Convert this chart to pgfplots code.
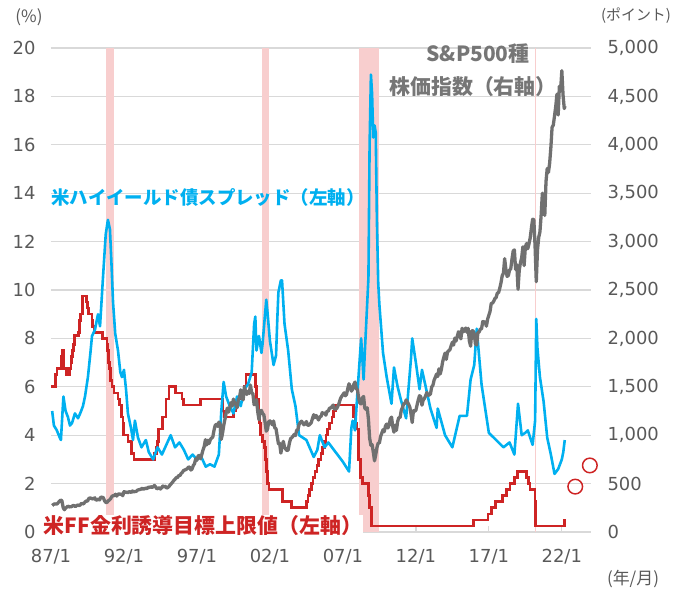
\documentclass[border=0pt]{standalone}
\usepackage{fontspec}
\setmainfont{DejaVu Sans}
\newfontfamily\cjk{Noto Sans CJK JP}
\usepackage{pgfplots}
\pgfplotsset{compat=1.18}
\definecolor{hy}{RGB}{0,176,240}
\definecolor{ff}{RGB}{206,36,36}
\definecolor{sp}{RGB}{112,112,112}
\definecolor{sptext}{RGB}{118,118,118}
\definecolor{rec}{RGB}{248,206,206}
\definecolor{gridc}{RGB}{217,217,217}
\definecolor{lbl}{RGB}{89,89,89}
\begin{document}
\begin{tikzpicture}[x=1bp,y=1bp]
\path[use as bounding box] (-51,-59) rectangle (632,532);
\begin{axis}[
  at={(0,0)}, anchor=south west, scale only axis,
  width=540bp, height=484bp,
  xmin=1987, xmax=2024, ymin=0, ymax=20, clip=false,
  axis line style={draw=none},
  ymajorgrids, grid style={draw=gridc, line width=1.3bp},
  ytick={0,2,...,20},
  xtick={1987,1992,...,2022},
  xticklabels={87/1,92/1,97/1,02/1,07/1,12/1,17/1,22/1},
  xtick pos=bottom, ytick pos=left, tick align=inside, major tick length=6bp,
  xtick style={draw=gridc, line width=1.3bp}, ytick style={draw=none},
  tick label style={font=\fontsize{18}{20}\selectfont, text=lbl},
  xticklabel style={yshift=-14bp}, yticklabel style={xshift=-12bp},
  /pgf/number format/assume math mode=true,
]
% recession shading
\addplot[fill=rec, draw=none, forget plot] coordinates {(1990.75,0) (1990.75,20) (1991.3,20) (1991.3,0)} -- cycle;
\addplot[fill=rec, draw=none, forget plot] coordinates {(2001.45,0) (2001.45,20) (2001.93,20) (2001.93,0)} -- cycle;
\addplot[fill=rec, draw=none, forget plot] coordinates {(2008.1,0) (2008.1,20) (2009.47,20) (2009.47,0)} -- cycle;
\addplot[fill=rec, draw=none, forget plot] coordinates {(2020.17,0) (2020.17,20) (2020.24,20) (2020.24,0)} -- cycle;
% FF target upper limit
\addplot[ff, line width=2.6bp, const plot] coordinates {
(1987.0,6.0) (1987.3,6.5) (1987.4,6.75) (1987.7,7.25) (1987.8,7.5) (1987.85,6.75)
(1988.08,6.5) (1988.25,6.75) (1988.36,7.0) (1988.4,7.25) (1988.48,7.5) (1988.55,7.75)
(1988.6,8.125) (1988.9,8.25) (1988.96,8.75) (1989.02,9.0) (1989.15,9.75)
(1989.44,9.5) (1989.52,9.25) (1989.57,9.0) (1989.8,8.75) (1989.85,8.5) (1989.97,8.25)
(1990.54,8.0) (1990.83,7.75) (1990.87,7.5) (1990.93,7.25) (1990.96,7.0)
(1991.02,6.75) (1991.09,6.25) (1991.18,6.0) (1991.33,5.75) (1991.6,5.5) (1991.7,5.25)
(1991.83,5.0) (1991.85,4.75) (1991.93,4.5) (1991.97,4.0)
(1992.27,3.75) (1992.5,3.25) (1992.68,3.0)
(1994.1,3.25) (1994.22,3.5) (1994.3,3.75) (1994.38,4.25) (1994.62,4.75) (1994.87,5.5)
(1995.08,6.0) (1995.51,5.75) (1995.97,5.5) (1996.08,5.25) (1997.23,5.5)
(1998.74,5.25) (1998.79,5.0) (1998.88,4.75) (1999.5,5.0) (1999.65,5.25) (1999.88,5.5)
(2000.09,5.75) (2000.22,6.0) (2000.37,6.5)
(2001.0,6.0) (2001.08,5.5) (2001.21,5.0) (2001.3,4.5) (2001.37,4.0) (2001.49,3.75)
(2001.64,3.5) (2001.71,3.0) (2001.75,2.5) (2001.85,2.0) (2001.94,1.75)
(2002.85,1.25) (2003.48,1.0)
(2004.5,1.25) (2004.61,1.5) (2004.72,1.75) (2004.86,2.0) (2004.95,2.25)
(2005.09,2.5) (2005.22,2.75) (2005.33,3.0) (2005.5,3.25) (2005.6,3.5) (2005.72,3.75)
(2005.83,4.0) (2005.95,4.25) (2006.08,4.5) (2006.24,4.75) (2006.36,5.0) (2006.49,5.25)
(2007.71,4.75) (2007.83,4.5) (2007.94,4.25)
(2008.06,3.5) (2008.08,3.0) (2008.21,2.25) (2008.33,2.0) (2008.77,1.5) (2008.82,1.0) (2008.96,0.25)
(2015.96,0.5) (2016.95,0.75) (2017.2,1.0) (2017.45,1.25) (2017.95,1.5)
(2018.22,1.75) (2018.45,2.0) (2018.74,2.25) (2018.97,2.5)
(2019.58,2.25) (2019.71,2.0) (2019.83,1.75) (2020.17,1.25) (2020.2,0.25)
(2022.2,0.5) (2022.22,0.5)
};
% high-yield spread
\addplot[hy, line width=2.6bp, line join=round] coordinates {
(1987.08,5.0) (1987.2,4.4) (1987.4,4.2) (1987.6,3.9) (1987.68,3.8) (1987.85,5.6) (1988.0,5.0)
(1988.16,4.75) (1988.3,4.4) (1988.44,4.5) (1988.64,4.9) (1988.85,4.7) (1989.0,4.9)
(1989.19,5.2) (1989.33,5.6) (1989.53,6.4) (1989.7,7.4) (1989.81,8.1) (1990.01,8.35)
(1990.22,9.0) (1990.36,8.5) (1990.56,10.5) (1990.75,12.3) (1990.9,12.9) (1991.04,12.5)
(1991.15,11.0) (1991.25,9.5) (1991.4,8.2) (1991.59,7.5) (1991.75,6.6) (1991.86,6.4)
(1992.0,6.7) (1992.14,5.9) (1992.27,4.9) (1992.48,4.3) (1992.62,3.8) (1992.75,4.6)
(1992.96,3.9) (1993.2,3.5) (1993.5,3.8) (1993.7,3.3) (1994.0,3.0) (1994.3,3.5)
(1994.6,3.2) (1994.9,3.6) (1995.2,4.0) (1995.5,3.5) (1995.8,3.7) (1996.1,3.4)
(1996.4,3.0) (1996.7,3.2) (1997.0,3.0) (1997.3,3.1) (1997.6,2.7) (1997.9,2.8)
(1998.2,2.7) (1998.5,3.2) (1998.67,5.0) (1998.83,6.2) (1999.0,5.6) (1999.25,5.2)
(1999.5,4.9) (1999.75,5.6) (2000.0,5.2) (2000.25,5.9) (2000.5,6.1) (2000.75,6.6)
(2000.92,8.6) (2001.0,8.9) (2001.08,7.5) (2001.25,8.1) (2001.42,7.4) (2001.5,7.8)
(2001.75,9.6) (2001.83,9.1) (2002.0,7.9) (2002.25,6.9) (2002.42,7.3) (2002.5,8.7)
(2002.58,9.9) (2002.75,10.4) (2002.83,10.4) (2003.0,8.6) (2003.25,7.5) (2003.5,5.9)
(2003.75,5.2) (2004.0,4.0) (2004.25,3.9) (2004.5,3.8) (2005.0,3.1) (2005.25,3.4)
(2005.42,4.0) (2005.75,3.5) (2006.0,3.7) (2006.5,3.3) (2007.0,2.9) (2007.42,2.5)
(2007.58,4.3) (2007.67,4.6) (2007.83,4.2) (2008.0,5.8) (2008.25,8.0) (2008.42,6.3)
(2008.5,7.4) (2008.75,10.5) (2008.83,16.0) (2008.92,18.9) (2009.0,18.1) (2009.08,16.3)
(2009.17,16.8) (2009.25,16.5) (2009.33,12.9) (2009.42,10.3) (2009.5,9.4) (2009.75,7.4)
(2010.0,6.4) (2010.33,5.3) (2010.5,6.8) (2010.75,6.0) (2011.0,5.4) (2011.33,4.7)
(2011.67,7.2) (2011.75,8.0) (2012.0,7.0) (2012.25,5.9) (2012.42,6.7) (2013.0,5.1)
(2013.42,4.3) (2013.5,5.1) (2014.0,4.0) (2014.5,3.5) (2015.0,4.8) (2015.5,4.8)
(2015.75,6.3) (2016.0,6.9) (2016.17,8.4) (2016.5,6.1) (2017.0,4.1) (2017.5,3.8)
(2018.0,3.5) (2018.42,3.7) (2018.75,3.2) (2019.0,5.3) (2019.25,4.0) (2019.5,4.1)
(2019.67,4.2) (2020.0,3.6) (2020.17,4.6) (2020.25,8.8) (2020.33,7.6) (2020.5,6.4)
(2020.75,5.4) (2021.0,3.9) (2021.25,3.2) (2021.5,2.4) (2021.75,2.6) (2022.0,3.0)
(2022.1,3.3) (2022.2,3.8)
};
% projections
\addplot[only marks, mark=o, mark size=7.3bp, mark options={draw=ff, line width=1.5bp, fill=white}] coordinates {(2022.92,1.875) (2023.92,2.75)};
\end{axis}
\begin{axis}[
  at={(0,0)}, anchor=south west, scale only axis,
  width=540bp, height=484bp,
  xmin=1987, xmax=2024, ymin=0, ymax=5000,
  axis line style={draw=none},
  xtick=\empty, ytick={0,500,...,5000},
  ytick pos=right, yticklabel pos=right, ytick style={draw=none},
  tick label style={font=\fontsize{18}{20}\selectfont, text=lbl},
  yticklabel style={xshift=13bp},
  /pgf/number format/1000 sep={,},
  /pgf/number format/assume math mode=true,
]
\addplot[sp, line width=3.3bp, line join=round] coordinates {
(1987.083,274) (1987.167,284) (1987.25,291) (1987.333,288) (1987.417,290) (1987.5,304) (1987.583,318) (1987.667,330) (1987.75,322) (1987.833,252) (1987.917,230) (1988.0,247)
(1988.083,257) (1988.167,268) (1988.25,259) (1988.333,261) (1988.417,262) (1988.5,274) (1988.583,272) (1988.667,262) (1988.75,272) (1988.833,279) (1988.917,274) (1989.0,278)
(1989.083,297) (1989.167,289) (1989.25,295) (1989.333,310) (1989.417,321) (1989.5,318) (1989.583,346) (1989.667,351) (1989.75,349) (1989.833,341) (1989.917,346) (1990.0,353)
(1990.083,329) (1990.167,332) (1990.25,340) (1990.333,331) (1990.417,361) (1990.5,358) (1990.583,356) (1990.667,323) (1990.75,306) (1990.833,304) (1990.917,322) (1991.0,330)
(1991.083,344) (1991.167,367) (1991.25,375) (1991.333,375) (1991.417,390) (1991.5,371) (1991.583,388) (1991.667,395) (1991.75,388) (1991.833,392) (1991.917,375) (1992.0,417)
(1992.083,409) (1992.167,413) (1992.25,404) (1992.333,415) (1992.417,415) (1992.5,408) (1992.583,424) (1992.667,414) (1992.75,418) (1992.833,419) (1992.917,431) (1993.0,436)
(1993.083,439) (1993.167,443) (1993.25,452) (1993.333,440) (1993.417,450) (1993.5,451) (1993.583,448) (1993.667,464) (1993.75,459) (1993.833,468) (1993.917,462) (1994.0,466)
(1994.083,481) (1994.167,467) (1994.25,446) (1994.333,451) (1994.417,457) (1994.5,444) (1994.583,458) (1994.667,475) (1994.75,463) (1994.833,472) (1994.917,454) (1995.0,459)
(1995.083,470) (1995.167,487) (1995.25,501) (1995.333,515) (1995.417,533) (1995.5,545) (1995.583,562) (1995.667,562) (1995.75,584) (1995.833,582) (1995.917,605) (1996.0,616)
(1996.083,636) (1996.167,640) (1996.25,646) (1996.333,654) (1996.417,669) (1996.5,671) (1996.583,640) (1996.667,652) (1996.75,687) (1996.833,705) (1996.917,757) (1997.0,741)
(1997.083,786) (1997.167,791) (1997.25,757) (1997.333,801) (1997.417,848) (1997.5,885) (1997.583,954) (1997.667,899) (1997.75,947) (1997.833,915) (1997.917,955) (1998.0,970)
(1998.083,980) (1998.167,1049) (1998.25,1102) (1998.333,1112) (1998.417,1091) (1998.5,1134) (1998.583,1121) (1998.667,957) (1998.75,1017) (1998.833,1099) (1998.917,1164) (1999.0,1229)
(1999.083,1280) (1999.167,1238) (1999.25,1286) (1999.333,1335) (1999.417,1302) (1999.5,1373) (1999.583,1329) (1999.667,1320) (1999.75,1283) (1999.833,1363) (1999.917,1389) (2000.0,1469)
(2000.083,1394) (2000.167,1366) (2000.25,1499) (2000.333,1452) (2000.417,1421) (2000.5,1455) (2000.583,1431) (2000.667,1518) (2000.75,1437) (2000.833,1429) (2000.917,1315) (2001.0,1320)
(2001.083,1366) (2001.167,1240) (2001.25,1160) (2001.333,1249) (2001.417,1256) (2001.5,1224) (2001.583,1211) (2001.667,1134) (2001.75,1041) (2001.833,1060) (2001.917,1139) (2002.0,1148)
(2002.083,1130) (2002.167,1107) (2002.25,1147) (2002.333,1076) (2002.417,1067) (2002.5,990) (2002.583,912) (2002.667,916) (2002.75,815) (2002.833,886) (2002.917,936) (2003.0,880)
(2003.083,856) (2003.167,841) (2003.25,848) (2003.333,917) (2003.417,964) (2003.5,975) (2003.583,990) (2003.667,1008) (2003.75,996) (2003.833,1051) (2003.917,1058) (2004.0,1112)
(2004.083,1131) (2004.167,1145) (2004.25,1126) (2004.333,1107) (2004.417,1121) (2004.5,1141) (2004.583,1102) (2004.667,1104) (2004.75,1115) (2004.833,1130) (2004.917,1174) (2005.0,1212)
(2005.083,1181) (2005.167,1204) (2005.25,1181) (2005.333,1157) (2005.417,1192) (2005.5,1191) (2005.583,1234) (2005.667,1220) (2005.75,1229) (2005.833,1207) (2005.917,1249) (2006.0,1248)
(2006.083,1280) (2006.167,1281) (2006.25,1295) (2006.333,1311) (2006.417,1270) (2006.5,1270) (2006.583,1277) (2006.667,1304) (2006.75,1336) (2006.833,1378) (2006.917,1401) (2007.0,1418)
(2007.083,1438) (2007.167,1407) (2007.25,1421) (2007.333,1482) (2007.417,1531) (2007.5,1503) (2007.583,1455) (2007.667,1474) (2007.75,1527) (2007.833,1549) (2007.917,1481) (2008.0,1468)
(2008.083,1379) (2008.167,1331) (2008.25,1323) (2008.333,1386) (2008.417,1400) (2008.5,1280) (2008.583,1267) (2008.667,1283) (2008.75,1165) (2008.833,969) (2008.917,896) (2009.0,903)
(2009.083,826) (2009.167,735) (2009.25,798) (2009.333,873) (2009.417,919) (2009.5,919) (2009.583,987) (2009.667,1021) (2009.75,1057) (2009.833,1036) (2009.917,1096) (2010.0,1115)
(2010.083,1074) (2010.167,1104) (2010.25,1169) (2010.333,1187) (2010.417,1089) (2010.5,1031) (2010.583,1102) (2010.667,1049) (2010.75,1141) (2010.833,1183) (2010.917,1181) (2011.0,1258)
(2011.083,1286) (2011.167,1327) (2011.25,1326) (2011.333,1364) (2011.417,1345) (2011.5,1321) (2011.583,1292) (2011.667,1219) (2011.75,1131) (2011.833,1253) (2011.917,1247) (2012.0,1258)
(2012.083,1312) (2012.167,1366) (2012.25,1408) (2012.333,1398) (2012.417,1310) (2012.5,1362) (2012.583,1379) (2012.667,1407) (2012.75,1441) (2012.833,1412) (2012.917,1416) (2013.0,1426)
(2013.083,1498) (2013.167,1515) (2013.25,1569) (2013.333,1598) (2013.417,1631) (2013.5,1606) (2013.583,1686) (2013.667,1633) (2013.75,1682) (2013.833,1757) (2013.917,1806) (2014.0,1848)
(2014.083,1783) (2014.167,1859) (2014.25,1872) (2014.333,1884) (2014.417,1924) (2014.5,1960) (2014.583,1931) (2014.667,2003) (2014.75,1972) (2014.833,2018) (2014.917,2068) (2015.0,2059)
(2015.083,1995) (2015.167,2105) (2015.25,2068) (2015.333,2086) (2015.417,2107) (2015.5,2063) (2015.583,2104) (2015.667,1972) (2015.75,1920) (2015.833,2079) (2015.917,2080) (2016.0,2044)
(2016.083,1940) (2016.167,1932) (2016.25,2060) (2016.333,2065) (2016.417,2097) (2016.5,2099) (2016.583,2174) (2016.667,2171) (2016.75,2168) (2016.833,2126) (2016.917,2199) (2017.0,2239)
(2017.083,2279) (2017.167,2364) (2017.25,2363) (2017.333,2384) (2017.417,2412) (2017.5,2423) (2017.583,2470) (2017.667,2472) (2017.75,2519) (2017.833,2575) (2017.917,2648) (2018.0,2674)
(2018.083,2824) (2018.167,2714) (2018.25,2641) (2018.333,2648) (2018.417,2705) (2018.5,2718) (2018.583,2816) (2018.667,2902) (2018.75,2914) (2018.833,2712) (2018.917,2760) (2019.0,2507)
(2019.083,2704) (2019.167,2784) (2019.25,2834) (2019.333,2946) (2019.417,2752) (2019.5,2942) (2019.583,2980) (2019.667,2926) (2019.75,2977) (2019.833,3038) (2019.917,3141) (2020.0,3231)
(2020.083,3226) (2020.167,2954) (2020.25,2585) (2020.333,2912) (2020.417,3044) (2020.5,3100) (2020.583,3271) (2020.667,3500) (2020.75,3363) (2020.833,3270) (2020.917,3622) (2021.0,3756)
(2021.083,3714) (2021.167,3811) (2021.25,3973) (2021.333,4181) (2021.417,4204) (2021.5,4298) (2021.583,4395) (2021.667,4523) (2021.75,4308) (2021.833,4605) (2021.917,4567) (2022.0,4766)
(2022.083,4516) (2022.167,4374) (2022.22,4400)
};
\end{axis}
\node[font=\cjk\bfseries\fontsize{21}{21}\selectfont, text=sptext] at (427,478) {S\&P500種};
\node[font=\cjk\bfseries\fontsize{21}{21}\selectfont, text=sptext] at (422,445) {株価指数（右軸）};
\node[font=\cjk\bfseries\fontsize{18.5}{18.5}\selectfont, text=hy] at (157,335) {米ハイイールド債スプレッド（左軸）};
\node[font=\cjk\bfseries\fontsize{21}{21}\selectfont, text=ff, fill=white, inner sep=1bp] at (152,6) {米FF金利誘導目標上限値（左軸）};
\node[font=\cjk\fontsize{17}{17}\selectfont, text=lbl] at (-22,515) {(\%)};
\node[font=\cjk\fontsize{15}{15}\selectfont, text=lbl] at (585,516) {(ポイント)};
\node[font=\cjk\fontsize{17}{17}\selectfont, text=lbl] at (582,-47) {(年/月)};
\end{tikzpicture}
\end{document}
